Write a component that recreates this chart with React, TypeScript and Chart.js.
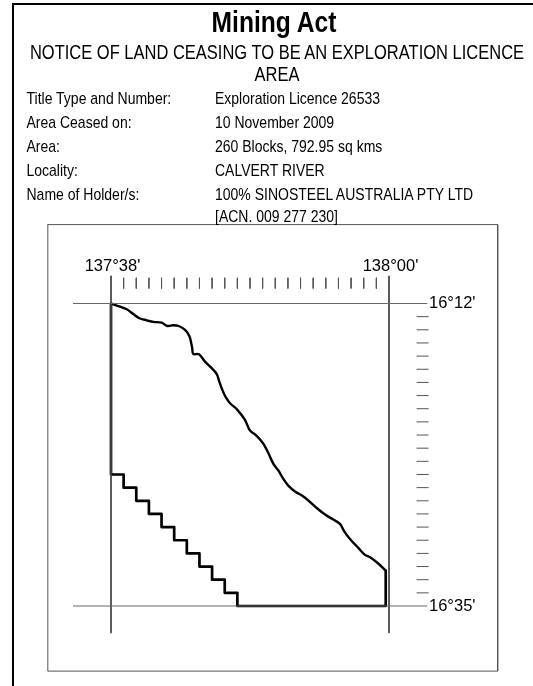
import React, { useEffect, useRef } from "react";
import { Chart, registerables } from "chart.js";

Chart.register(...registerables);

const W = 533;
const H = 686;
const FONT = "'Liberation Sans', Arial, sans-serif";

// Longitude: minutes past 137°; latitude: minutes past 16° south
const coastLon = [38, 38.71, 39.24, 39.76, 40.24, 40.83, 41.35, 42.01, 42.46, 42.93, 43.41, 43.86, 44.2, 44.35, 44.43, 44.51, 44.96, 45.44, 45.89, 46.36, 46.57, 46.81, 47.08, 47.42, 47.95, 48.6, 49, 49.53, 50.05, 50.45, 50.84, 51.24, 51.64, 52.03, 52.56, 53.22, 53.69, 54.28, 54.94, 55.59, 56.12, 56.46, 56.91, 57.57, 58.1, 58.5, 59.15, 59.74];
const coastLat = [12, 12.24, 12.44, 12.8, 13.12, 13.28, 13.4, 13.46, 13.71, 13.65, 13.73, 14.01, 14.47, 15.02, 15.4, 15.83, 15.86, 16.42, 16.84, 17.35, 17.94, 18.57, 19.12, 19.58, 20.03, 20.84, 21.66, 22.06, 22.66, 23.37, 24.18, 24.69, 25.34, 25.85, 26.29, 26.67, 27.04, 27.55, 28.05, 28.43, 28.76, 29.32, 29.9, 30.58, 31.11, 31.3, 31.77, 32.31];
const closeLon = [59.74, 59.74, 48, 48, 47, 47, 46, 46, 45, 45, 44, 44, 43, 43, 42, 42, 41, 41, 40, 40, 39, 39, 38, 38];
const closeLat = [32.31, 35, 35, 34, 34, 33, 33, 32, 32, 31, 31, 30, 30, 29, 29, 28, 28, 27, 27, 26, 26, 25, 25, 12];

const lonTicks = [39, 40, 41, 42, 43, 44, 45, 46, 47, 48, 49, 50, 51, 52, 53, 54, 55, 56, 57, 58, 59];
const latTicks = [13, 14, 15, 16, 17, 18, 19, 20, 21, 22, 23, 24, 25, 26, 27, 28, 29, 30, 31, 32, 33, 34];
const lonLabels: Record<number, string> = { 38: "137°38'", 60: "138°00'" };
const latLabels: Record<number, string> = { 12: "16°12'", 35: "16°35'" };

const gridLon = [38, 60];
const gridLat = [12, 35];
const gridLonSpan = [9.9, 37.05];
const gridLatSpan = [35, 63];
const lonTickSpan = [10.05, 10.85];
const latTickSpan = [62.2, 63.1];
const frameLon = [33, 68.6, 68.6, 33, 33];
const frameLat = [6, 6, 39.95, 39.95, 6];

const title = "Mining Act";
const subtitle = ["NOTICE OF LAND CEASING TO BE AN EXPLORATION LICENCE", "AREA"];
const fieldNames = ["Title Type and Number:", "Area Ceased on:", "Area:", "Locality:", "Name of Holder/s:", ""];
const fieldValues = ["Exploration Licence 26533", "10 November 2009", "260 Blocks, 792.95 sq kms", "CALVERT RIVER", "100% SINOSTEEL AUSTRALIA PTY LTD", "[ACN. 009 277 230]"];
const fieldTops = [91, 114.5, 138.5, 162.5, 186.5, 208.5];

const hLines = (lats: number[], span: number[]) =>
  lats.flatMap((y) => [{ x: span[0], y }, { x: span[1], y }, { x: NaN, y: NaN }]);
const vLines = (lons: number[], span: number[]) =>
  lons.flatMap((x) => [{ x, y: span[0] }, { x, y: span[1] }, { x: NaN, y: NaN }]);

const abs = (left: number, top: number, size: number, extra: React.CSSProperties = {}): React.CSSProperties => ({
  position: "absolute",
  left,
  top,
  fontSize: size,
  lineHeight: `${size + 2}px`,
  fontFamily: FONT,
  color: "#000",
  whiteSpace: "nowrap",
  transform: "scaleY(1.2)",
  transformOrigin: "50% 80%",
  ...extra,
});

export default function App() {
  const ref = useRef<HTMLCanvasElement>(null);
  useEffect(() => {
    const line = (data: any[], color: string, width: number, tension = 0) => ({
      data,
      showLine: true,
      borderColor: color,
      borderWidth: width,
      pointRadius: 0,
      clip: false as any,
      spanGaps: false,
      tension,
      borderJoinStyle: "round" as const,
      borderCapStyle: "round" as const,
    });
    const chart = new Chart(ref.current!, {
      type: "scatter",
      data: {
        datasets: [
          line(frameLon.map((x, i) => ({ x, y: frameLat[i] })), "#555", 1),
          line(hLines(gridLat, gridLatSpan), "#666", 1),
          line(vLines(gridLon, gridLonSpan), "#444", 1),
          line(vLines(lonTicks, lonTickSpan), "#555", 1),
          line(hLines(latTicks, latTickSpan), "#555", 1),
          line(coastLon.map((x, i) => ({ x, y: coastLat[i] })), "#000", 2.4, 0.35),
          line(closeLon.map((x, i) => ({ x, y: closeLat[i] })), "#000", 2.7),
        ],
      },
      options: {
        responsive: false,
        animation: false,
        devicePixelRatio: 1,
        layout: { padding: { left: 111, right: 0, top: 0, bottom: 80 } },
        plugins: { legend: { display: false }, tooltip: { enabled: false }, title: { display: false } },
        scales: {
          x: {
            type: "linear",
            position: "top",
            min: 38,
            max: 60,
            grid: { display: false, drawTicks: false },
            border: { display: false },
            afterFit: (s: any) => { s.height = 303.5; },
            afterBuildTicks: (s: any) => { s.ticks = gridLon.map((value) => ({ value })); },
            ticks: {
              autoSkip: false,
              maxRotation: 0,
              padding: 27,
              labelOffset: 1.5,
              color: "#000",
              font: { family: FONT, size: 16.5 },
              callback: (v: any) => lonLabels[v] ?? "",
            },
          },
          y: {
            type: "linear",
            position: "right",
            reverse: true,
            min: 12,
            max: 35,
            grid: { display: false, drawTicks: false },
            border: { display: false },
            afterFit: (s: any) => { s.width = 144; },
            afterBuildTicks: (s: any) => { s.ticks = gridLat.map((value) => ({ value })); },
            ticks: {
              autoSkip: false,
              padding: 40,
              color: "#000",
              font: { family: FONT, size: 16.5 },
              callback: (v: any) => latLabels[v] ?? "",
            },
          },
        },
      },
    });
    return () => chart.destroy();
  }, []);

  return (
    <div style={{ position: "absolute", left: 0, top: 0, width: W, height: H, overflow: "hidden", background: "#fff" }}>
      <div style={{ position: "absolute", left: 12, top: 3, width: 521, height: 683, borderLeft: "2px solid #000", borderTop: "2px solid #000" }} />
      <canvas ref={ref} width={W} height={H} style={{ position: "absolute", left: 0, top: 0, display: "block" }} />
      <div style={abs(0, 11, 24.6, { width: 548, textAlign: "center", fontWeight: 700 })}>{title}</div>
      <div style={abs(0, 44, 16.5, { width: 554, textAlign: "center" })}>{subtitle[0]}</div>
      <div style={abs(0, 66, 16.5, { width: 554, textAlign: "center" })}>{subtitle[1]}</div>
      {fieldNames.map((t, i) => (
        <div key={i} style={abs(26.5, fieldTops[i], 14)}>{t}</div>
      ))}
      {fieldValues.map((t, i) => (
        <div key={i} style={abs(215, fieldTops[i], 14)}>{t}</div>
      ))}
    </div>
  );
}
